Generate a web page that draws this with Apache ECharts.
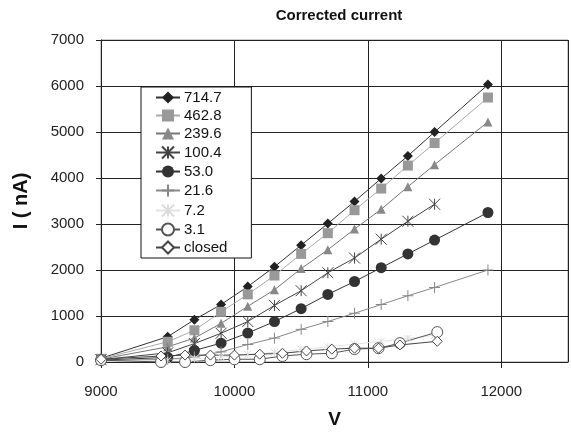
<!DOCTYPE html>
<html>
<head>
<meta charset="utf-8">
<script src="https://cdn.jsdelivr.net/npm/echarts@6/dist/echarts.min.js"></script>
<style>html,body{margin:0;padding:0;background:#fff}#c{width:571px;height:434px}</style>
</head>
<body>
<div id="c"></div>
<script>
var vMain = [9000, 9500, 9700, 9900, 10100, 10300, 10500, 10700, 10900, 11100, 11300, 11500, 11900];
var s714 = [80, 550, 920, 1250, 1640, 2070, 2540, 3010, 3490, 3990, 4480, 5000, 6030];
var s462 = [70, 440, 690, 1090, 1470, 1880, 2350, 2800, 3300, 3770, 4270, 4760, 5750];
var s239 = [60, 330, 520, 840, 1210, 1570, 2030, 2440, 2890, 3320, 3810, 4290, 5220];
var v100 = [9000, 9500, 9700, 9900, 10100, 10300, 10500, 10700, 10900, 11100, 11300, 11500];
var s100 = [50, 200, 400, 625, 880, 1230, 1550, 1940, 2260, 2670, 3060, 3430];
var s53 = [40, 100, 250, 410, 630, 880, 1160, 1470, 1750, 2050, 2350, 2650, 3250];
var s21 = [30, 60, 110, 220, 380, 520, 710, 880, 1060, 1250, 1440, 1620, 2000];
var v7 = [9000, 9500, 9700, 9900, 10100, 10300, 10500, 10700, 10900, 11100, 11300, 11500];
var s7 = [20, 40, 70, 110, 160, 210, 270, 330, 390, 450, 510, 580];
var vLow = [9000, 9450, 9630, 9820, 10000, 10190, 10360, 10540, 10730, 10900, 11080, 11240, 11520];
var s3 = [40, 0, 0, 40, 60, 60, 130, 170, 190, 280, 300, 410, 650];
var sClosed = [60, 130, 150, 150, 150, 170, 190, 240, 280, 300, 300, 370, 450];
var names = ['714.7', '462.8', '239.6', '100.4', '53.0', '21.6', '7.2', '3.1', 'closed'];
var xTicks = [9000, 10000, 11000, 12000];
var yTicks = [0, 1000, 2000, 3000, 4000, 5000, 6000, 7000];

function pairs(xs, ys) { return xs.map(function (x, i) { return [x, ys[i]]; }); }

var asterisk = 'path://M0,0 L10,10 M10,0 L0,10 M5,0 L5,10';
var plus = 'path://M5,0 L5,10 M0,5 L10,5';

function mk(name, xs, ys, symbol, size, lineColor, fill, border, bw) {
  return {
    name: name, type: 'line', data: pairs(xs, ys), symbol: symbol, symbolSize: size,
    showAllSymbol: true,
    lineStyle: { color: lineColor, width: 1 },
    itemStyle: { color: fill, borderColor: border, borderWidth: bw },
    emphasis: { disabled: true }, animation: false, z: 3
  };
}

var chart = echarts.init(document.getElementById('c'), null, { renderer: 'canvas' });
chart.setOption({
  animation: false,
  backgroundColor: '#fff',
  textStyle: { fontFamily: 'Liberation Sans, Arial, sans-serif' },
  title: {
    text: 'Corrected current', left: 334, top: 3, textAlign: 'center',
    textStyle: { fontSize: 15, fontWeight: 'bold', color: '#111', fontFamily: 'Liberation Sans, Arial, sans-serif' }
  },
  grid: { left: 101, right: 3, top: 40, bottom: 68, show: true, borderColor: '#999', borderWidth: 1, backgroundColor: '#fff' },
  legend: {
    orient: 'vertical', left: 141, top: 87,
    padding: [3, 24, 3, 14], itemGap: 3, itemWidth: 24, itemHeight: 15,
    backgroundColor: '#fff', borderColor: '#111', borderWidth: 1,
    textStyle: { fontSize: 15, color: '#111', padding: [0, 0, 0, -1] },
    data: names
  },
  xAxis: {
    type: 'value', min: 9000, max: 12500, interval: 1000,
    name: 'V', nameLocation: 'middle', nameGap: 48,
    nameTextStyle: { fontSize: 19, fontWeight: 'bold', color: '#111' },
    axisLine: { show: true, lineStyle: { color: '#222', width: 1 } },
    axisTick: { show: true, inside: false, length: 6, lineStyle: { color: '#222' } },
    axisLabel: { fontSize: 15, color: '#222', margin: 22, showMaxLabel: false,
      formatter: function (v) { return xTicks.indexOf(v) >= 0 ? String(v) : ''; } },
    splitLine: { show: true, lineStyle: { color: '#222', width: 1 } }
  },
  yAxis: {
    type: 'value', min: 0, max: 7000, interval: 1000,
    name: 'I ( nA)', nameLocation: 'middle', nameGap: 70, nameRotate: 90,
    nameTextStyle: { fontSize: 20, fontWeight: 'bold', color: '#111' },
    axisLine: { show: true, lineStyle: { color: '#222', width: 1 } },
    axisTick: { show: true, length: 5, lineStyle: { color: '#222' } },
    axisLabel: { fontSize: 15, color: '#222', margin: 17,
      formatter: function (v) { return yTicks.indexOf(v) >= 0 ? String(v) : ''; } },
    splitLine: { show: true, lineStyle: { color: '#222', width: 1 } }
  },
  series: [
    mk(names[0], vMain, s714, 'diamond', 10, '#333', '#222', '#222', 0),
    mk(names[1], vMain, s462, 'rect', 10, '#aaa', '#999', '#999', 0),
    mk(names[2], vMain, s239, 'triangle', 9, '#777', '#888', '#888', 0),
    mk(names[3], v100, s100, asterisk, 11, '#444', 'none', '#444', 1),
    mk(names[4], vMain, s53, 'circle', 11, '#333', '#333', '#333', 0),
    mk(names[5], vMain, s21, plus, 11, '#888', 'none', '#888', 1),
    mk(names[6], v7, s7, asterisk, 7, '#e2e2e2', 'none', '#dcdcdc', 1),
    mk(names[7], vLow, s3, 'circle', 11, '#555', '#fff', '#555', 1),
    mk(names[8], vLow, sClosed, 'diamond', 10, '#444', '#fff', '#444', 1)
  ]
});
</script>
</body>
</html>
